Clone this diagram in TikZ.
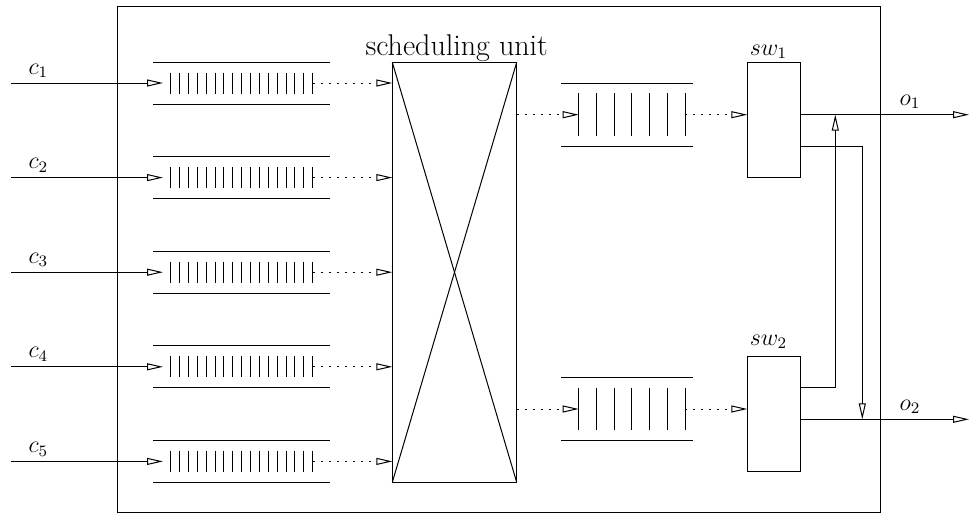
\documentclass[tikz,border=0pt]{standalone}
\usetikzlibrary{arrows.meta}
\begin{document}
\begin{tikzpicture}[x=0.5pt,y=-0.5pt, line width=0.5pt,
  arr/.style={-{Triangle[open,length=8pt,width=3.5pt]}},
  dots/.style={dash pattern=on 1pt off 3pt},
  box/.style={draw, inner sep=0pt, outer sep=0pt},
  lbl/.style={anchor=base west, inner sep=0pt, font=\fontsize{12}{14}\selectfont},
  qline/.style={line width=0.5pt},
  bar/.style={line width=0.5pt}]
\useasboundingbox (0,0) rectangle (969,514);
% outer unit
\node[box, minimum width=381.7pt, minimum height=253pt] (unit) at (499,259.7) {};
\node[anchor=base west, inner sep=0pt, font=\fontsize{15}{18}\selectfont] (title) at (365,55) {scheduling unit};
% scheduling crossbar
\node[box, minimum width=62.2pt, minimum height=210pt] (sched) at (454.5,272.3) {};
\draw (sched.north west) -- (sched.south east);
\draw (sched.north east) -- (sched.south west);
% switches
\node[box, minimum width=26.5pt, minimum height=57.5pt] (sw1) at (773.8,119.8) {};
\node[box, minimum width=26.5pt, minimum height=57.5pt] (sw2) at (773.8,414.2) {};
\node[lbl] (sw1l) at (749.3,55) {$sw_1$};
\node[lbl] (sw2l) at (749.3,345) {$sw_2$};
% input queues
\foreach \i/\y in {1/83,2/177.6,3/272.2,4/366.8,5/461.4} {
  \coordinate (in\i) at (11,\y);
  \coordinate (qa\i) at (163,\y);
  \coordinate (qb\i) at (312.7,\y);
  \coordinate (sa\i) at (392.3,\y);
  \draw[qline] (153,\y-21) -- (330,\y-21) (153,\y+21) -- (330,\y+21);
  \foreach \k in {0,...,16} \draw[bar] (170.7+8.875*\k,\y-10.5) -- ++(0,21);
  \draw[arr] (in\i) -- (qa\i);
  \draw[arr,dots] (qb\i) -- (sa\i);
  \node[lbl] (c\i) at (28,\y-9) {$c_{\i}$};
}
% output queues
\foreach \j/\y in {1/114.7,2/409} {
  \draw[qline] (561,\y-31.5) -- (693,\y-31.5) (561,\y+31.5) -- (693,\y+31.5);
  \foreach \k in {0,...,6} \draw[bar] (578.7+17.72*\k,\y-21.3) -- ++(0,42.6);
  \coordinate (se\j) at (516.7,\y);
  \coordinate (pa\j) at (578.7,\y);
  \coordinate (pb\j) at (685,\y);
  \coordinate (sw\j in) at (747.3,\y);
  \draw[arr,dots] (se\j) -- (pa\j);
  \draw[arr,dots] (pb\j) -- (sw\j in);
}
% outputs
\coordinate (o1s) at (800.3,114.7);
\coordinate (o1e) at (969,114.7);
\coordinate (o2s) at (800.3,419.3);
\coordinate (o2e) at (969,419.3);
\draw[arr] (o1s) -- (o1e);
\draw[arr] (o2s) -- (o2e);
\node[lbl] (o1) at (899,105) {$o_1$};
\node[lbl] (o2) at (899,410) {$o_2$};
% cross connections
\coordinate (x1s) at (800.3,146.7);
\coordinate (x1e) at (862.3,419.3);
\coordinate (x2s) at (800.3,387.3);
\coordinate (x2e) at (835.3,114.7);
\draw[arr] (x1s) -| (x1e);
\draw[arr] (x2s) -| (x2e);
\end{tikzpicture}
\end{document}
